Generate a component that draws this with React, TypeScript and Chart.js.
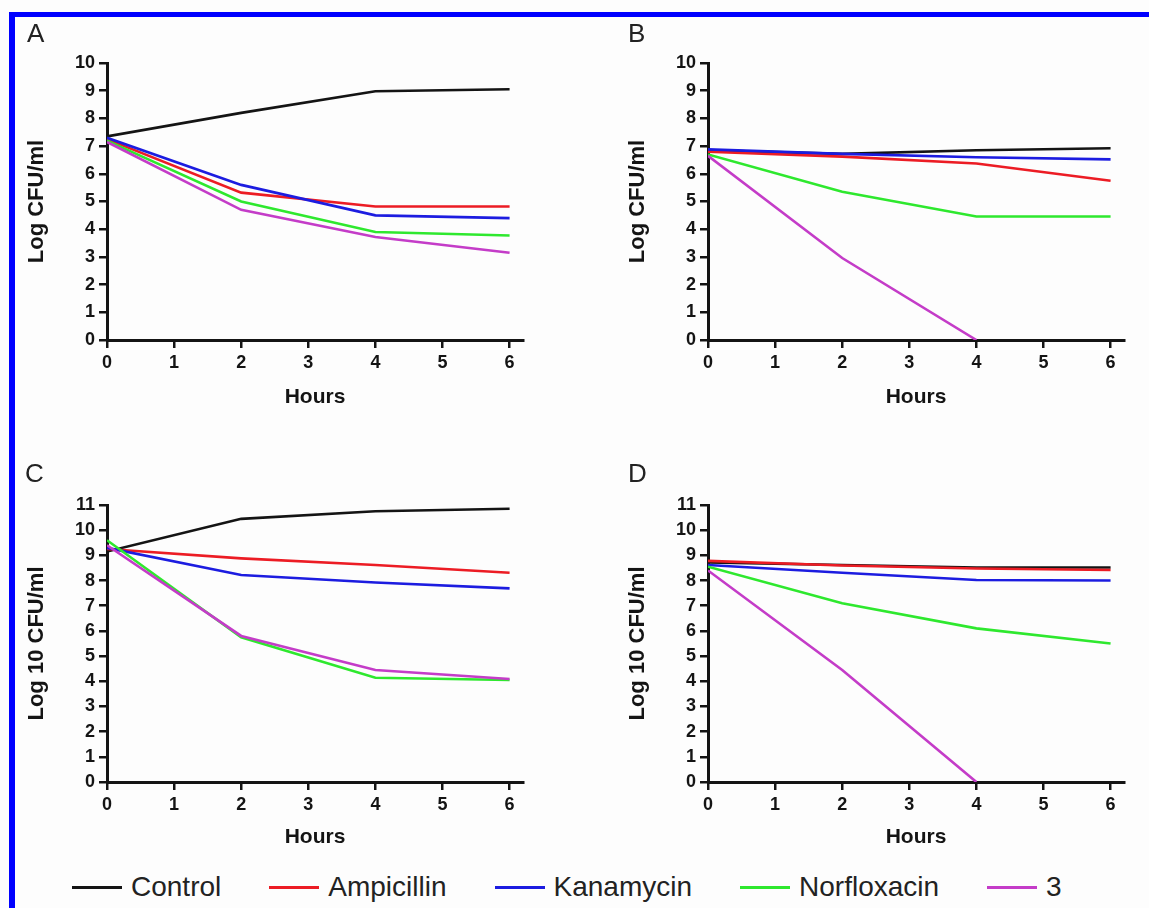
import React, { useEffect, useRef } from "react";
import { Chart, registerables } from "chart.js";

Chart.register(...registerables);

// ---------- data ----------
const hours = [0, 2, 4, 6];
const seriesNames = ["Control", "Ampicillin", "Kanamycin", "Norfloxacin", "3"];
const seriesColors = ["#141414", "#ec1c24", "#1c1ce0", "#2ee82e", "#c43cc8"];
const xTickValues = [0, 1, 2, 3, 4, 5, 6];

// Panel A
const aControl = [7.35, 8.2, 8.98, 9.05];
const aAmpicillin = [7.25, 5.32, 4.82, 4.82];
const aKanamycin = [7.3, 5.6, 4.5, 4.4];
const aNorfloxacin = [7.2, 5.0, 3.9, 3.77];
const aCompound3 = [7.15, 4.7, 3.72, 3.15];

// Panel B
const bControl = [6.85, 6.72, 6.85, 6.92];
const bAmpicillin = [6.8, 6.62, 6.37, 5.75];
const bKanamycin = [6.88, 6.72, 6.6, 6.52];
const bNorfloxacin = [6.7, 5.35, 4.46, 4.46];
const bCompound3 = [6.65, 2.96, 0, null];

// Panel C
const cControl = [9.15, 10.45, 10.75, 10.85];
const cAmpicillin = [9.25, 8.88, 8.62, 8.31];
const cKanamycin = [9.3, 8.22, 7.92, 7.69];
const cNorfloxacin = [9.6, 5.75, 4.14, 4.05];
const cCompound3 = [9.4, 5.8, 4.45, 4.09];

// Panel D
const dControl = [8.72, 8.62, 8.52, 8.52];
const dAmpicillin = [8.78, 8.6, 8.48, 8.42];
const dKanamycin = [8.62, 8.31, 8.02, 8.0];
const dNorfloxacin = [8.55, 7.1, 6.1, 5.5];
const dCompound3 = [8.4, 4.45, 0, null];

const panelLetters = ["A", "B", "C", "D"];
const yTitles = ["Log CFU/ml", "Log CFU/ml", "Log 10 CFU/ml", "Log 10 CFU/ml"];
const yMaxes = [10, 10, 11, 11];
const xTitle = "Hours";

// ---------- layout / style ----------
const FONT = "'Liberation Sans', Arial, Helvetica, sans-serif";
const INK = "#141414";

type PanelLayout = {
  left: number; top: number; width: number; height: number; xAxisHeight: number;
  letterLeft: number; letterTop: number;
};

const layouts: PanelLayout[] = [
  { left: 20, top: 39, width: 511, height: 377, xAxisHeight: 76, letterLeft: 27, letterTop: 20 },
  { left: 621, top: 39, width: 511, height: 377, xAxisHeight: 76, letterLeft: 628, letterTop: 20 },
  { left: 20, top: 481, width: 511, height: 375, xAxisHeight: 74, letterLeft: 25, letterTop: 460 },
  { left: 621, top: 481, width: 511, height: 375, xAxisHeight: 74, letterLeft: 628, letterTop: 460 },
];

const panelSeries = [
  [aControl, aAmpicillin, aKanamycin, aNorfloxacin, aCompound3],
  [bControl, bAmpicillin, bKanamycin, bNorfloxacin, bCompound3],
  [cControl, cAmpicillin, cKanamycin, cNorfloxacin, cCompound3],
  [dControl, dAmpicillin, dKanamycin, dNorfloxacin, dCompound3],
];

function Panel({ index }: { index: number }) {
  const ref = useRef<HTMLCanvasElement>(null);
  const lay = layouts[index];

  useEffect(() => {
    const series = panelSeries[index];
    const tickFont = { family: FONT, size: 18, weight: "bold" as const };
    const chart = new Chart(ref.current!, {
      type: "line",
      data: {
        datasets: series.map((vals, i) => ({
          label: seriesNames[i],
          data: hours
            .map((h, j) => ({ x: h, y: vals[j] as number }))
            .filter((p) => p.y !== null && p.y !== undefined),
          borderColor: seriesColors[i],
          backgroundColor: seriesColors[i],
          borderWidth: 2.6,
          pointRadius: 0,
          tension: 0,
          fill: false,
          order: series.length - i,
        })),
      },
      options: {
        responsive: false,
        maintainAspectRatio: false,
        animation: false,
        layout: { padding: { top: 24, right: 8, bottom: 0, left: 0 } },
        plugins: { legend: { display: false }, tooltip: { enabled: false } },
        scales: {
          x: {
            type: "linear",
            min: 0,
            max: 6.2,
            afterBuildTicks: (s: any) => {
              s.ticks = xTickValues.map((v) => ({ value: v }));
            },
            afterFit: (s: any) => {
              s.height = lay.xAxisHeight;
            },
            ticks: { stepSize: 1, font: tickFont, color: INK, padding: 4, maxRotation: 0, autoSkip: false },
            grid: { display: true, drawOnChartArea: false, drawTicks: true, tickLength: 8, color: INK, lineWidth: 2.5 },
            border: { display: true, color: INK, width: 3 },
            title: {
              display: true,
              text: xTitle,
              font: { family: FONT, size: 21, weight: "bold" },
              color: INK,
              padding: { top: 0, bottom: 6 },
            },
          },
          y: {
            type: "linear",
            min: 0,
            max: yMaxes[index],
            afterFit: (s: any) => {
              s.width = 87;
            },
            ticks: { stepSize: 1, font: tickFont, color: INK, padding: 4, autoSkip: false },
            grid: { display: true, drawOnChartArea: false, drawTicks: true, tickLength: 8, color: INK, lineWidth: 2.5 },
            border: { display: true, color: INK, width: 3 },
            title: {
              display: true,
              text: yTitles[index],
              font: { family: FONT, size: 22, weight: "bold" },
              color: INK,
              padding: { top: 4, bottom: 0 },
            },
          },
        },
      },
    });
    return () => chart.destroy();
  }, [index]);

  return (
    <>
      <canvas
        ref={ref}
        width={lay.width}
        height={lay.height}
        style={{ position: "absolute", left: lay.left, top: lay.top, width: lay.width, height: lay.height }}
      />
      <div
        style={{
          position: "absolute",
          left: lay.letterLeft,
          top: lay.letterTop,
          fontFamily: FONT,
          fontSize: 26,
          lineHeight: "26px",
          color: "#222",
        }}
      >
        {panelLetters[index]}
      </div>
    </>
  );
}

export default function App() {
  return (
    <div
      style={{
        position: "fixed",
        left: 0,
        top: 0,
        width: 1149,
        height: 908,
        overflow: "hidden",
        background: "#fdfdfd",
      }}
    >
      <div style={{ position: "absolute", left: 9, top: 12, width: 1140, height: 5, background: "#0000ff" }} />
      <div style={{ position: "absolute", left: 9, top: 12, width: 6, height: 896, background: "#0000ff" }} />
      {[0, 1, 2, 3].map((i) => (
        <Panel key={i} index={i} />
      ))}
      <div
        style={{
          position: "absolute",
          left: 72,
          top: 873,
          display: "flex",
          alignItems: "center",
          gap: 48,
          fontFamily: FONT,
          fontSize: 28,
          lineHeight: "28px",
          color: "#222",
          whiteSpace: "nowrap",
        }}
      >
        {seriesNames.map((name, i) => (
          <div key={name} style={{ display: "flex", alignItems: "center" }}>
            <div style={{ width: 50, height: 3, background: seriesColors[i], marginRight: 9 }} />
            <span>{name}</span>
          </div>
        ))}
      </div>
    </div>
  );
}
